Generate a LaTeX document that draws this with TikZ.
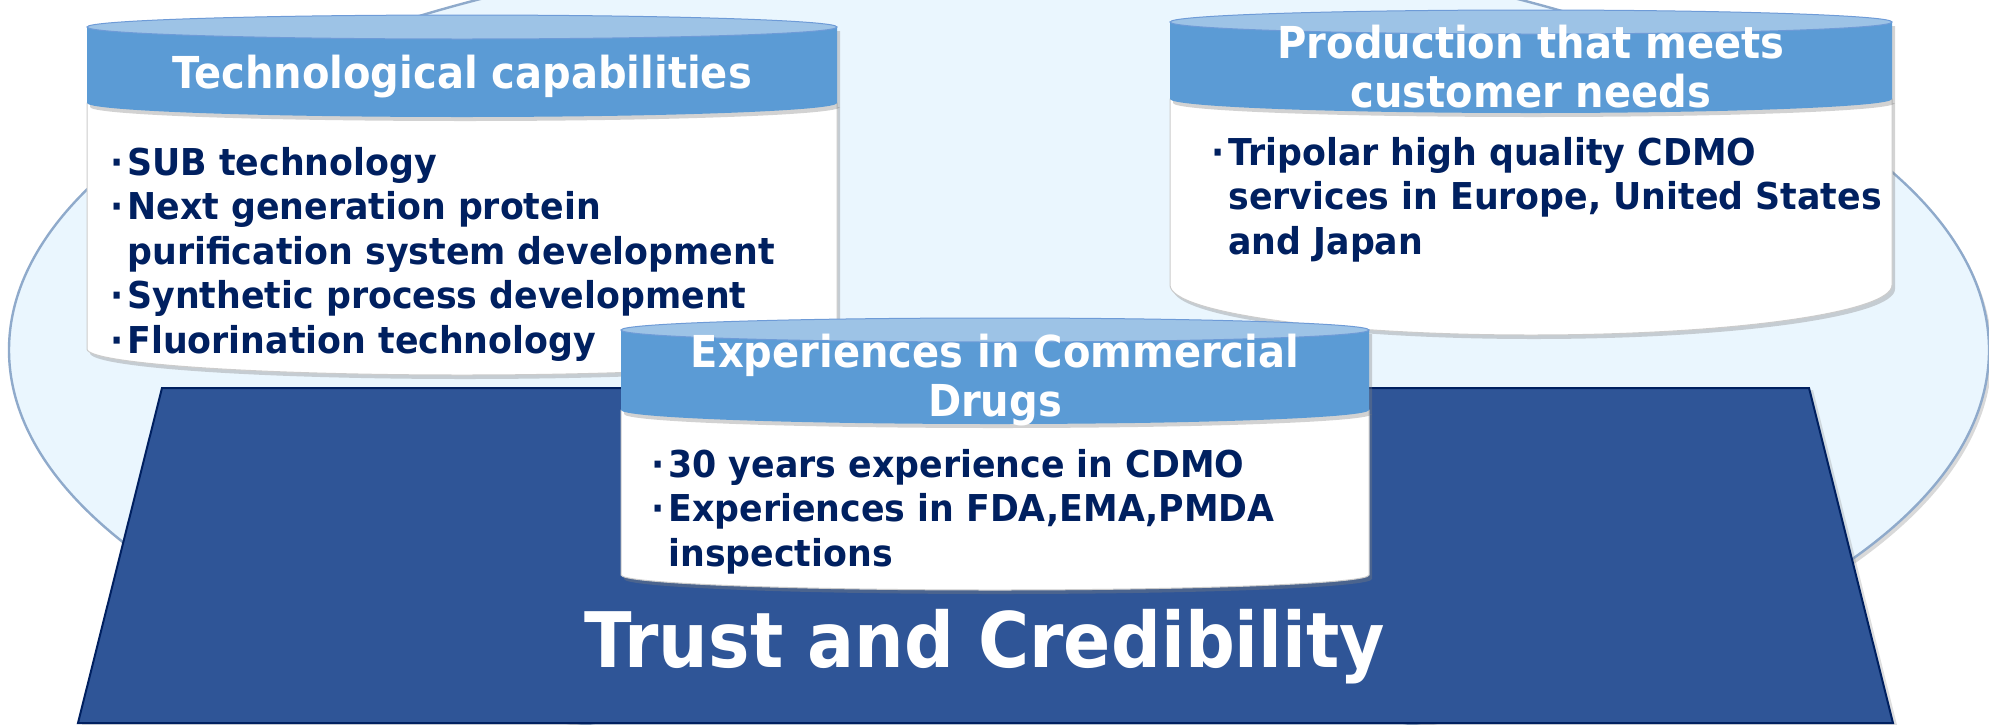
\documentclass[tikz,border=0pt]{standalone}
\usepackage{fontspec}
\newfontfamily\headfont[FakeStretch=0.91]{DejaVu Sans}
\newfontfamily\itemfont[FakeStretch=0.94]{DejaVu Sans}
\usetikzlibrary{shadows}

\definecolor{paleblue}{RGB}{234,246,254}
\definecolor{paleedge}{RGB}{143,170,203}
\definecolor{basefill}{RGB}{47,85,151}
\definecolor{navy}{RGB}{0,32,96}
\definecolor{bandblue}{RGB}{91,155,213}
\definecolor{lidblue}{RGB}{157,195,230}
\definecolor{lidedge}{RGB}{110,155,215}

\newcommand{\bul}{\makebox[8.5pt][l]{·}}
\newcommand{\ind}{\hspace*{8.5pt}}

% #1 left, #2 right, #3 lid y, #4 band y, #5 bottom y, #6 band dip, #7 bottom dip
\newcommand{\canshape}[7]{%
  \pgfmathsetmacro{\cancx}{(#1+#2)/2}%
  \pgfmathsetmacro{\cankx}{0.5523*(#2-#1)/2}%
  \path[canbody] (#1,#4) -- (#1,#5)
    .. controls (#1,#5+0.5523*#7) and (\cancx-\cankx,#5+#7) .. (\cancx,#5+#7)
    .. controls (\cancx+\cankx,#5+#7) and (#2,#5+0.5523*#7) .. (#2,#5)
    -- (#2,#4) -- cycle;
  \path[canband] (#1,#3) -- (#1,#4)
    .. controls (#1,#4+0.5523*#6) and (\cancx-\cankx,#4+#6) .. (\cancx,#4+#6)
    .. controls (\cancx+\cankx,#4+#6) and (#2,#4+0.5523*#6) .. (#2,#4)
    -- (#2,#3) -- cycle;
  \path[cantop] (\cancx,#3) ellipse [x radius={(#2-#1)/2}, y radius=12];
}

\begin{document}
\begin{tikzpicture}[x=0.5pt,y=-0.5pt,
  halo/.style={fill=paleblue,draw=paleedge,line width=1.2pt,
    drop shadow={opacity=.3,shadow xshift=1.5pt,shadow yshift=-2pt}},
  base/.style={fill=basefill,draw=navy,line width=1pt,
    drop shadow={opacity=.25,shadow xshift=2pt,shadow yshift=-1pt}},
  canbody/.style={fill=white,draw=black!20,line width=.5pt,
    drop shadow={opacity=.35,shadow xshift=1.5pt,shadow yshift=-2pt}},
  canband/.style={fill=bandblue,
    drop shadow={opacity=.35,shadow xshift=1.5pt,shadow yshift=-2pt}},
  cantop/.style={fill=lidblue,draw=lidedge,line width=.5pt},
  head/.style={text=white,inner sep=0pt,anchor=base,
    font=\headfont\bfseries\fontsize{22pt}{24.75pt}\selectfont},
  items/.style={text=navy,inner sep=0pt,anchor=base west,
    font=\itemfont\bfseries\fontsize{18.5pt}{22.25pt}\selectfont},
  motto/.style={text=white,inner sep=0pt,anchor=base,
    font=\headfont\bfseries\fontsize{38.3pt}{40pt}\selectfont}]
  \useasboundingbox (0,0) rectangle (1989,724);
  % Background oval
  \path[halo] (999,350) ellipse [x radius=990, y radius=412];
  % Technological capabilities
  \canshape{87}{837}{27}{103}{349}{14}{26}
  \node[head] (techhead) at (462,88) {Technological capabilities};
  \node[items] (techlist) at (110,175) {\begin{tabular}[t]{@{}l@{}}
    \bul SUB technology\\
    \bul Next generation protein\\
    \ind purification system development\\
    \bul Synthetic process development\\
    \bul Fluorination technology
  \end{tabular}};
  % Production
  \canshape{1170}{1892}{22}{99}{285}{14}{50}
  \node[head] (prodhead) at (1531,58) {\begin{tabular}[t]{@{}c@{}}
    Production that meets\\ customer needs\end{tabular}};
  \node[items] (prodlist) at (1211,165) {\begin{tabular}[t]{@{}l@{}}
    \bul Tripolar high quality CDMO\\
    \ind services in Europe, United States\\
    \ind and Japan
  \end{tabular}};
  % Base
  \path[base] (162,388) -- (1809,388) -- (1893,723) -- (78,723) -- cycle;
  \node[motto] (trust) at (985,667) {Trust and Credibility};
  % Commercial drugs
  \canshape{621}{1369}{330}{410}{575}{14}{15}
  \node[head] (drughead) at (995,367) {\begin{tabular}[t]{@{}c@{}}
    Experiences in Commercial\\ Drugs\end{tabular}};
  \node[items] (druglist) at (651,477) {\begin{tabular}[t]{@{}l@{}}
    \bul 30 years experience in CDMO\\
    \bul Experiences in FDA,EMA,PMDA\\
    \ind inspections
  \end{tabular}};
\end{tikzpicture}
\end{document}
